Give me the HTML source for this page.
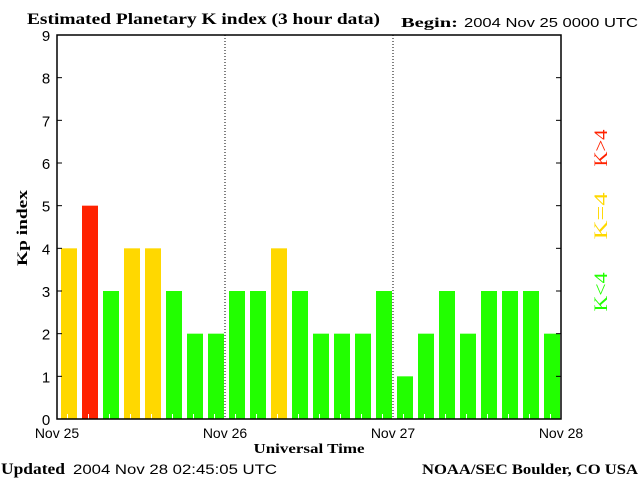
<!DOCTYPE html>
<html><head><meta charset="utf-8"><style>
body{margin:0;background:#fff;}
svg{display:block;}
</style></head><body>
<svg id="chart" width="640" height="480" xmlns="http://www.w3.org/2000/svg">
<rect width="640" height="480" fill="#fff"/>
<text x="27" y="24" textLength="353" lengthAdjust="spacingAndGlyphs" font-family="Liberation Serif, serif" font-size="16" font-weight="bold">Estimated Planetary K index (3 hour data)</text>
<text x="401" y="27" textLength="57" lengthAdjust="spacingAndGlyphs" font-family="Liberation Serif, serif" font-size="14" font-weight="bold">Begin:</text>
<text x="464" y="27" textLength="174" lengthAdjust="spacingAndGlyphs" font-family="Liberation Sans, sans-serif" font-size="13">2004 Nov 25 0000 UTC</text>
<g id="plot"></g>
<text transform="translate(27,228) rotate(-90)" text-anchor="middle" textLength="76" lengthAdjust="spacingAndGlyphs" font-family="Liberation Serif, serif" font-size="15" font-weight="bold">Kp index</text>
<text x="309" y="453" text-anchor="middle" textLength="111" lengthAdjust="spacingAndGlyphs" font-family="Liberation Serif, serif" font-size="14" font-weight="bold">Universal Time</text>
<text x="1" y="474" textLength="64" lengthAdjust="spacingAndGlyphs" font-family="Liberation Serif, serif" font-size="16" font-weight="bold">Updated</text>
<text x="73" y="474" textLength="204" lengthAdjust="spacingAndGlyphs" font-family="Liberation Sans, sans-serif" font-size="14">2004 Nov 28 02:45:05 UTC</text>
<text x="422" y="474" textLength="216" lengthAdjust="spacingAndGlyphs" font-family="Liberation Serif, serif" font-size="15" font-weight="bold">NOAA/SEC Boulder, CO USA</text>
<text transform="translate(607,148) rotate(-90)" text-anchor="middle" textLength="37" lengthAdjust="spacingAndGlyphs" fill="#ff2200" font-family="Liberation Serif, serif" font-size="19">K&gt;4</text>
<text transform="translate(607,216) rotate(-90)" text-anchor="middle" textLength="47" lengthAdjust="spacingAndGlyphs" fill="#ffd800" font-family="Liberation Serif, serif" font-size="19">K=4</text>
<text transform="translate(607,292) rotate(-90)" text-anchor="middle" textLength="39" lengthAdjust="spacingAndGlyphs" fill="#22ff00" font-family="Liberation Serif, serif" font-size="19">K&lt;4</text>
</svg>
<script>
const kpValues = [4,5,3,4,4,3,2,2,3,3,4,3,2,2,2,3,1,2,3,2,3,3,3,2];
const yTicks = [0,1,2,3,4,5,6,7,8,9];
const dayLabels = ["Nov 25","Nov 26","Nov 27","Nov 28"];

const NS = "http://www.w3.org/2000/svg";
const L = 57, R = 561, T = 35, B = 419;
const g = document.getElementById('plot');
const slot = (R - L) / kpValues.length;
function yScale(v){ return B - v * (B - T) / 9; }
function xSlot(i){ return L + i * slot; }
function mk(tag, attrs){ const e = document.createElementNS(NS, tag); for (const k in attrs) e.setAttribute(k, attrs[k]); g.appendChild(e); return e; }
function color(v){ return v > 4 ? '#ff2200' : (v === 4 ? '#ffd800' : '#22ff00'); }

kpValues.forEach((v, i) => {
  const y = yScale(v);
  const r = mk('rect', {x: xSlot(i) + 4, y: y, width: slot - 5, height: B - y, fill: color(v)});
  
  
  const tk = mk('line', {x1: xSlot(i) + slot / 2, x2: xSlot(i) + slot / 2, y1: B - 5, y2: B, stroke: '#fff', 'stroke-width': 1});
  
  
});

const days = dayLabels.length - 1;
for (let d = 1; d < days; d++) {
  const x = L + d * (R - L) / days;
  const dl = mk('line', {x1: x, x2: x, y1: T, y2: B, stroke: '#000', 'stroke-width': 1, 'stroke-dasharray': '1,2'});
  
  
}

const frame = mk('rect', {x: L, y: T, width: R - L, height: B - T, fill: 'none', stroke: '#000', 'stroke-width': 1.5});



yTicks.forEach(t => {
  const y = yScale(t);
  const a = mk('line', {x1: L, x2: L + 5, y1: y, y2: y, stroke: '#000'});
  
  
  const b = mk('line', {x1: R - 5, x2: R, y1: y, y2: y, stroke: '#000'});
  
  
  const tx = mk('text', {x: 46, y: y + 6, 'text-anchor': 'middle', 'font-family': 'Liberation Sans, sans-serif', 'font-size': 15});
  tx.textContent = t;
  
  
});

dayLabels.forEach((lab, d) => {
  const x = L + d * (R - L) / days;
  const tx = mk('text', {x: x, y: 438, 'text-anchor': 'middle', 'font-family': 'Liberation Sans, sans-serif', 'font-size': 14});
  tx.textContent = lab;
  
  
});
</script>
</body></html>
